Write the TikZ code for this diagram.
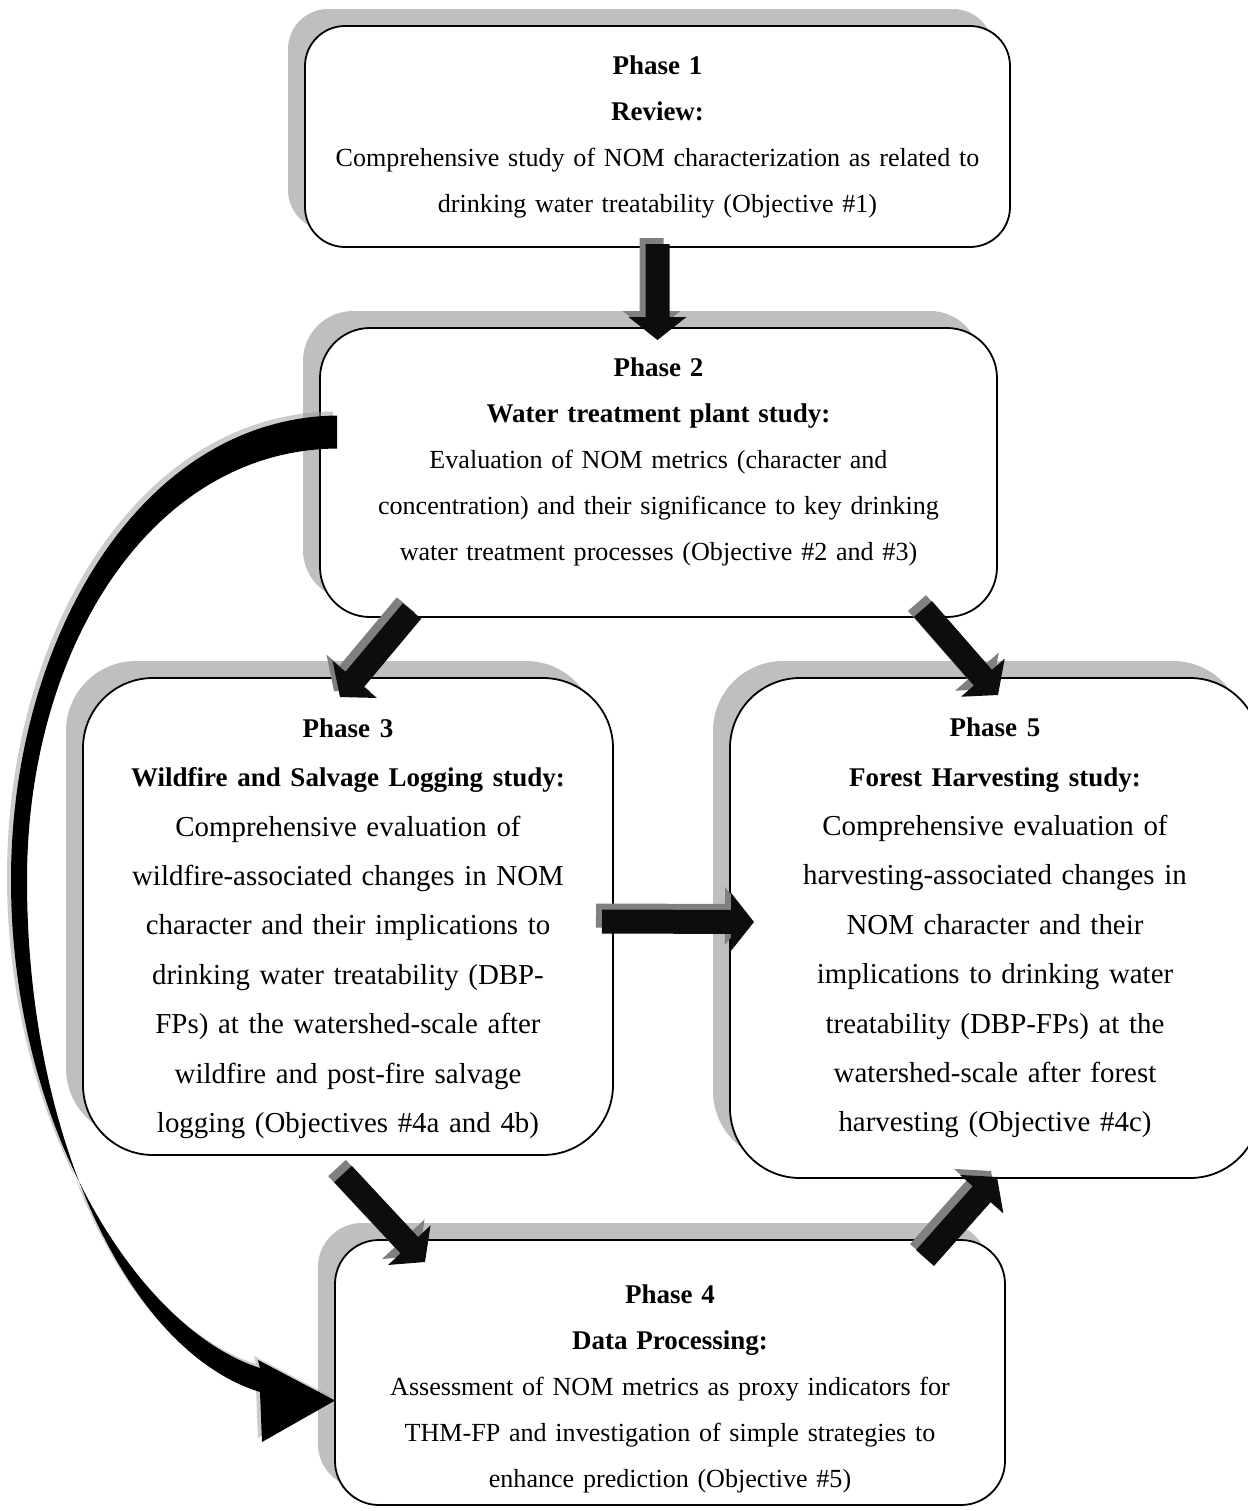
\documentclass[tikz,border=0pt]{standalone}
\usepackage{fontspec}
\setmainfont{Liberation Serif}
\usetikzlibrary{calc,positioning,shadows}

% block arrow from #2 to #3 (shaft 12pt, head 29pt wide, 11.5pt long)
\newcommand{\blockarrow}[3][]{%
  \fill[#1] let \p1=(#2), \p2=(#3), \p3=($(\p2)!11.5pt!(\p1)$) in
    ($(\p1)!6pt!90:(\p2)$) -- ($(\p3)!6pt!90:(\p2)$) -- ($(\p3)!14.5pt!90:(\p2)$) -- (\p2)
    -- ($(\p3)!14.5pt!-90:(\p2)$) -- ($(\p3)!6pt!-90:(\p2)$) -- ($(\p1)!6pt!-90:(\p2)$) -- cycle;}
\newcommand{\phasehead}[1]{{\fontsize{13.5}{23}\selectfont\bfseries #1}}
% struts that move the text of a box down (\pushdown) or up (\liftup)
\newcommand{\pushdown}[1]{\rule{0pt}{#1}}
\newcommand{\liftup}[1]{\rule[-#1]{0pt}{#1}}

\tikzset{
  phasebox/.style={draw, line width=0.9pt, fill=white, inner sep=0pt, outer sep=0pt, align=center,
    drop shadow={shadow xshift=-8.5pt, shadow yshift=8.5pt, fill=black!25, opacity=1}},
  smalltext/.style={font=\fontsize{13.05}{23}\selectfont},
  bigtext/.style={font=\fontsize{14.45}{24.7}\selectfont},
  arrowbody/.style={fill=black!95,
    drop shadow={shadow xshift=-3pt, shadow yshift=3pt, fill=black!50, opacity=1}},
  curvearrow/.style={fill=black,
    drop shadow={shadow xshift=-2pt, shadow yshift=2pt, fill=black!40, opacity=0.5}}
}

\begin{document}
\begin{tikzpicture}[x=0.5pt, y=-0.5pt]
  \useasboundingbox (0,0) rectangle (1248,1511);
  \clip (0,0) rectangle (1248,1511);

  % phases
  \node[phasebox, smalltext, minimum width=352.5pt, minimum height=110.5pt, text width=340pt,
    rounded corners=20pt] (p1) at (657.5,136.5)
    {\phasehead{Phase 1}\\ \phasehead{Review:}\\
     Comprehensive study of NOM characterization as related to\\
     drinking water treatability (Objective \#1)};
  \node[phasebox, smalltext, minimum width=338.5pt, minimum height=144.5pt, text width=330pt,
    rounded corners=25pt] (p2) at (658.5,472.5)
    {\phasehead{Phase 2}\\ \phasehead{Water treatment plant study:}\\
     Evaluation of NOM metrics (character and\\
     concentration) and their significance to key drinking\\
     water treatment processes (Objective \#2 and \#3)\liftup{12.9pt}};
  \node[phasebox, bigtext, minimum width=265pt, minimum height=238.5pt, text width=255pt,
    rounded corners=35pt] (p3) at (348,916.5)
    {\pushdown{21.5pt}\phasehead{Phase 3}\\ \phasehead{Wildfire and Salvage Logging study:}\\
     Comprehensive evaluation of\\
     wildfire-associated changes in NOM\\
     character and their implications to\\
     drinking water treatability (DBP-\\
     FPs) at the watershed-scale after\\
     wildfire and post-fire salvage\\
     logging (Objectives \#4a and 4b)};
  \node[phasebox, bigtext, minimum width=265pt, minimum height=250pt, text width=255pt,
    rounded corners=35pt] (p5) at (995,928)
    {\phasehead{Phase 5}\\ \phasehead{Forest Harvesting study:}\\
     Comprehensive evaluation of\\
     harvesting-associated changes in\\
     NOM character and their\\
     implications to drinking water\\
     treatability (DBP-FPs) at the\\
     watershed-scale after forest\\
     harvesting (Objective \#4c)};
  \node[phasebox, smalltext, minimum width=335pt, minimum height=132.5pt, text width=325pt,
    rounded corners=22pt] (p4) at (670,1372.5)
    {\pushdown{25.5pt}\phasehead{Phase 4}\\ \phasehead{Data Processing:}\\
     Assessment of NOM metrics as proxy indicators for\\
     THM-FP and investigation of simple strategies to\\
     enhance prediction (Objective \#5)};

  % block arrows
  \blockarrow[arrowbody]{$(p1.south)+(0,-3)$}{$(p2.north)+(-1,12)$}
  \blockarrow[arrowbody]{$(p2.south west)+(92,-6)$}{$(p3.north)+(-8,19)$}
  \blockarrow[arrowbody]{$(p2.south east)+(-74,-8)$}{$(p5.north)+(3,17)$}
  \blockarrow[arrowbody]{$(p3.east)+(-11,5)$}{$(p5.west)+(24,-6)$}
  \blockarrow[arrowbody]{$(p3.south)+(-5,19)$}{$(p4.north west)+(90,22)$}
  \blockarrow[arrowbody]{$(p4.north east)+(-80,18)$}{$(p5.south)+(2,-1)$}

  % curved arrow phase 2 -> phase 4
  \coordinate (cstart) at ($(p2.west)+(17,-40)$);
  \coordinate (cend) at ($(p4.west)+(0,28)$);
  \fill[curvearrow] ($(cstart)+(0,-17)$) .. controls (140,418) and (11,640) .. (11,880)
    .. controls (11,1130) and (140,1330) .. (260,1368) -- (258,1360) -- (cend)
    -- (262,1442) -- (260,1392) .. controls (130,1352) and (27,1140) .. (27,880)
    .. controls (27,650) and (150,450) .. ($(cstart)+(0,16)$) -- cycle;
\end{tikzpicture}
\end{document}
